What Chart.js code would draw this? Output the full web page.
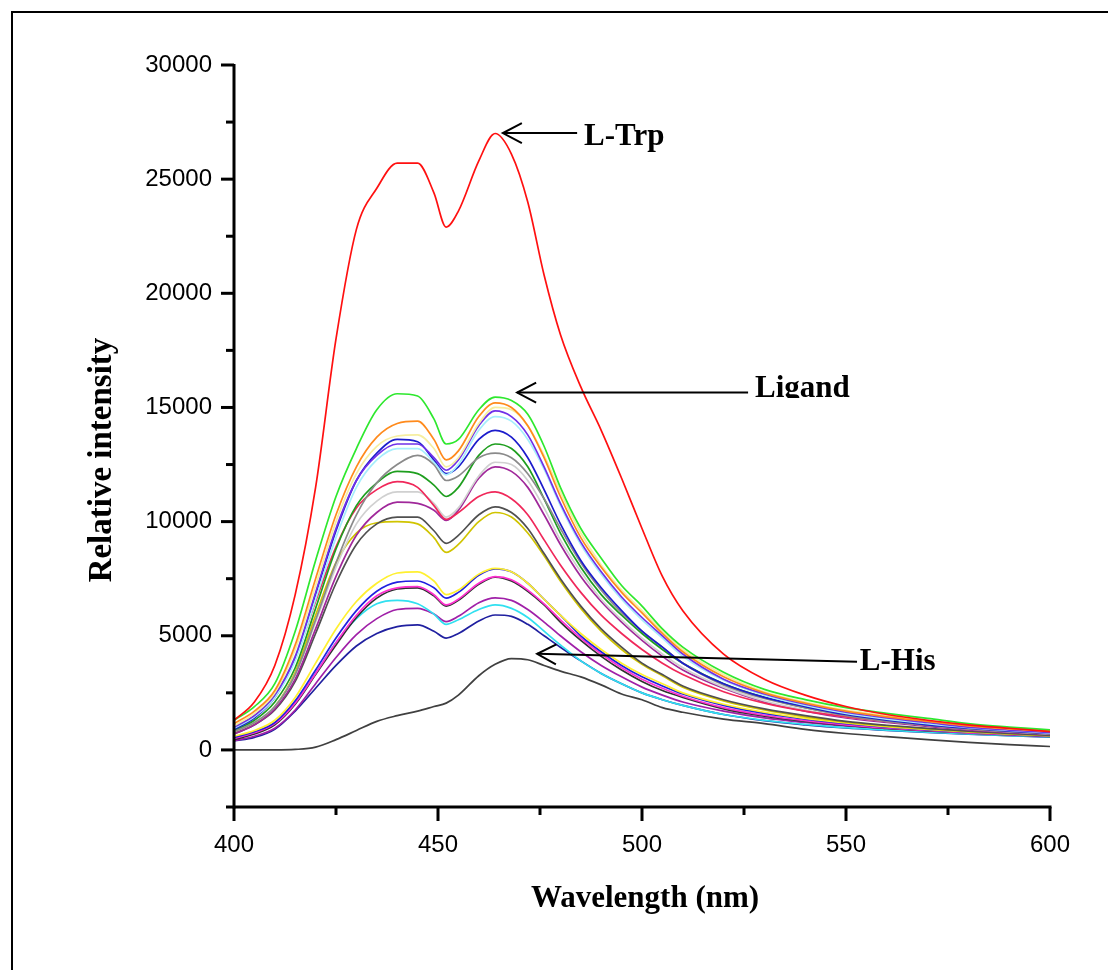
<!DOCTYPE html>
<html><head><meta charset="utf-8">
<script src="https://cdn.jsdelivr.net/npm/chart.js@4.4.0/dist/chart.umd.min.js"></script>
<style>
html,body{margin:0;padding:0;background:#fff;}
#wrap{position:relative;width:1108px;height:970px;overflow:hidden;}
#frame{position:absolute;left:11px;top:11px;width:1200px;height:1200px;border-left:2px solid #000;border-top:2px solid #000;}
canvas{position:absolute;left:0;top:0;}
</style></head><body>
<div id="wrap"><div id="frame"></div><canvas id="c" width="1108" height="970"></canvas></div>
<script>
// ---- data ----
const wavelength = [400,405,410,415,420,425,430,435,440,445,449,452,455,460,464,468,472,476,480,485,490,495,500,505,510,520,530,540,550,560,570,580,590,600];

const lTrp       = [1300,2100,3700,6800,11500,18000,22800,24600,25700,25700,24400,22900,23600,25800,27000,26100,24000,20800,18200,15900,14000,11900,9700,7600,6100,4200,3100,2400,1900,1550,1300,1100,950,800];
const ligGreen   = [1300,1900,2900,5200,8300,11100,13200,14900,15600,15500,14500,13400,13600,14900,15450,15300,14700,13300,11500,9700,8400,7200,6300,5300,4500,3400,2650,2200,1850,1600,1380,1150,1000,880];
const ligOrange  = [1150,1700,2600,4600,7500,10300,12400,13700,14300,14400,13600,12700,13100,14600,15200,15000,14200,12800,11100,9300,8000,6900,6000,5100,4300,3200,2500,2050,1700,1450,1250,1050,920,820];
const ligPaleYel = [1050,1600,2500,4400,7200,10000,12100,13300,13750,13800,13200,12400,12800,14300,15000,14900,14200,12900,11300,9500,8100,7000,6100,5200,4400,3300,2550,2100,1750,1500,1280,1080,940,830];
const ligBlue    = [900,1400,2300,4000,6800,9600,11800,13000,13600,13500,12700,12100,12400,13600,14000,13700,12800,11400,9900,8300,7100,6100,5200,4500,3800,2900,2300,1900,1550,1300,1100,950,820,720];
const ligPurple  = [1000,1500,2400,4100,6900,9700,11800,12900,13400,13400,12800,12250,12700,14200,14850,14600,13800,12400,10800,9100,7800,6700,5800,5000,4200,3100,2450,2000,1650,1400,1200,1000,870,760];
const ligLtCyan  = [950,1450,2300,3900,6600,9300,11500,12700,13200,13200,12600,12050,12500,14000,14600,14400,13600,12300,10700,9000,7700,6600,5700,4900,4100,3050,2400,1950,1600,1350,1150,980,850,740];
const ligGray    = [800,1200,1900,3300,5700,8200,10300,11700,12500,12900,12500,11800,12000,12800,13000,12800,12100,11000,9700,8200,7000,6000,5200,4500,3800,2850,2250,1850,1500,1250,1080,920,800,700];
const ligDkGreen = [850,1300,2100,3600,6200,8800,10700,11700,12200,12100,11600,11100,11500,12900,13400,13200,12400,11000,9500,8000,6800,5900,5100,4400,3800,2900,2300,1850,1550,1300,1100,950,820,720];
const ligCrimson = [1000,1500,2400,4000,6500,8900,10600,11400,11750,11500,10700,10100,10400,11100,11300,11000,10300,9200,8100,6900,5900,5100,4400,3800,3300,2550,2050,1700,1450,1250,1080,930,820,720];
const ligLtGray  = [800,1200,1900,3300,5600,8000,9900,10900,11300,11300,10800,10200,10600,12000,12600,12500,11800,10600,9200,7800,6600,5700,4900,4200,3600,2750,2150,1750,1450,1250,1070,920,800,700];
const ligMagenta = [700,1100,1800,3100,5300,7600,9400,10400,10850,10800,10500,10050,10500,11900,12400,12200,11500,10300,9000,7600,6500,5600,4800,4100,3500,2700,2100,1700,1400,1200,1030,880,770,680];
const ligDkGray  = [700,1100,1750,3000,5100,7300,9000,9900,10200,10200,9600,9050,9400,10300,10650,10400,9700,8600,7500,6300,5300,4500,3800,3300,2800,2200,1800,1500,1250,1080,940,820,720,640];
const ligOlive   = [750,1150,1900,3400,5900,8200,9500,9950,10000,9900,9300,8650,9000,10000,10400,10200,9500,8500,7400,6200,5200,4400,3750,3250,2750,2150,1750,1450,1220,1050,920,800,700,620];
const lowYellow  = [600,850,1300,2300,3800,5300,6500,7300,7750,7800,7400,6800,7000,7700,7950,7800,7300,6600,5900,5100,4400,3800,3300,2900,2500,2000,1650,1380,1180,1020,900,790,700,620];
const lowBlue    = [550,800,1200,2150,3500,4900,6100,6950,7350,7400,7100,6650,6900,7650,7930,7800,7300,6600,5900,5000,4300,3700,3200,2800,2450,1950,1600,1350,1150,1000,880,780,690,610];
const lowPink    = [500,750,1150,2050,3350,4700,5900,6750,7100,7150,6800,6350,6600,7300,7590,7450,7000,6400,5700,4900,4200,3600,3100,2700,2350,1850,1520,1280,1100,960,850,750,670,600];
const lowBlack   = [450,700,1100,2000,3300,4600,5800,6650,7050,7100,6750,6300,6550,7250,7570,7400,6950,6350,5600,4800,4100,3500,3000,2600,2300,1800,1480,1250,1070,940,830,740,660,590];
const lowCyan    = [500,750,1150,2050,3350,4700,5750,6400,6550,6400,5950,5500,5700,6150,6350,6200,5800,5200,4600,3900,3350,2900,2500,2200,1950,1550,1300,1120,980,870,780,700,630,570];
const lowPurple  = [400,600,950,1750,2900,4050,5050,5750,6150,6200,5950,5620,5850,6450,6660,6550,6150,5600,5000,4300,3700,3200,2750,2400,2100,1700,1400,1200,1040,920,820,730,650,580];
const lowDkBlue  = [400,550,900,1700,2700,3700,4550,5100,5400,5480,5200,4900,5100,5650,5910,5850,5500,5000,4500,3900,3350,2900,2500,2200,1950,1550,1280,1100,960,860,770,690,620,560];
const lHis       = [0,0,0,20,120,450,850,1250,1500,1700,1900,2050,2400,3250,3750,4000,3950,3700,3450,3200,2850,2450,2200,1850,1650,1350,1150,900,720,580,450,330,230,150];

// tick values / labels
const xMajorTicks = [400,450,500,550,600];
const xMinorTicks = [425,475,525,575];
const yMajorTicks = [0,5000,10000,15000,20000,25000,30000];
const yMinorTicks = [2500,7500,12500,17500,22500,27500];

// ---- styling (separate from data) ----
const seriesList = [
  ['L-Trp', lTrp, '#ff1010'],
  ['Ligand', ligGreen, '#2ee82e'],
  ['s3', ligOrange, '#ff8a1c'],
  ['s4', ligPaleYel, '#f6eea0'],
  ['s5', ligPurple, '#7030e8'],
  ['s6', ligLtCyan, '#a6eefc'],
  ['s7', ligBlue, '#1c1ccc'],
  ['s8', ligGray, '#8a8a8a'],
  ['s9', ligDkGreen, '#1e9e1e'],
  ['s10', ligCrimson, '#f0285a'],
  ['s11', ligLtGray, '#d0d0d0'],
  ['s12', ligMagenta, '#a0289a'],
  ['s13', ligDkGray, '#505050'],
  ['s14', ligOlive, '#d0c400'],
  ['s15', lowYellow, '#fff030'],
  ['s16', lowBlue, '#2020e0'],
  ['s17', lowPink, '#ff30d0'],
  ['s18', lowBlack, '#303030'],
  ['s19', lowCyan, '#30e0f0'],
  ['s20', lowPurple, '#a020a8'],
  ['s21', lowDkBlue, '#2020a0'],
  ['L-His', lHis, '#404040']
];

const datasets = seriesList.map(([name, vals, color]) => ({
  label: name,
  data: wavelength.map((w, i) => ({x: w, y: vals[i]})),
  borderColor: color,
  borderWidth: 1.7,
  pointRadius: 0,
  fill: false,
  cubicInterpolationMode: 'monotone'
}));

// annotations in data coordinates
const notes = [
  {text: 'L-Trp',  tip: [465.9, 27020], tail: [484.1, 27020], label: [485.8, 26480], clip: false},
  {text: 'Ligand', tip: [469.4, 15650], tail: [526.0, 15650], label: [527.7, 15460], clip: true},
  {text: 'L-His',  tip: [474.3, 4210],  tail: [552.7, 3860],  label: [553.4, 3500],  clip: false}
];

const drawPlugin = {
  id: 'decor',
  afterDraw(chart) {
    const {ctx, chartArea: a, scales: {x, y}} = chart;
    ctx.save();
    ctx.strokeStyle = '#000';
    ctx.fillStyle = '#000';
    ctx.lineCap = 'butt';
    ctx.lineWidth = 3;
    const seg = (x1, y1, x2, y2) => { ctx.beginPath(); ctx.moveTo(x1, y1); ctx.lineTo(x2, y2); ctx.stroke(); };
    // axis lines
    seg(a.left, a.top - 1, a.left, a.bottom + 1.5);
    seg(a.left - 8, a.bottom, a.right + 1.5, a.bottom);
    // y ticks
    yMajorTicks.forEach(v => { const p = y.getPixelForValue(v); seg(a.left - 13, p, a.left, p); });
    yMinorTicks.forEach(v => { const p = y.getPixelForValue(v); seg(a.left - 8, p, a.left, p); });
    // x ticks
    xMajorTicks.forEach(v => { const p = x.getPixelForValue(v); seg(p, a.bottom, p, a.bottom + 14); });
    xMinorTicks.forEach(v => { const p = x.getPixelForValue(v); seg(p, a.bottom, p, a.bottom + 8); });

    // axis titles
    ctx.textAlign = 'center';
    ctx.textBaseline = 'alphabetic';
    ctx.font = 'bold 31px "Liberation Serif", "Times New Roman", serif';
    ctx.fillText('Wavelength (nm)', (a.left + a.right) / 2 + 3, 907);
    ctx.save();
    ctx.translate(111, 460);
    ctx.rotate(-Math.PI / 2);
    ctx.font = 'bold 33px "Liberation Serif", "Times New Roman", serif';
    ctx.fillText('Relative intensity', 0, 0);
    ctx.restore();

    // annotations with open arrows
    ctx.lineWidth = 2;
    ctx.font = 'bold 31px "Liberation Serif", "Times New Roman", serif';
    ctx.textAlign = 'left';
    notes.forEach(n => {
      const tx = x.getPixelForValue(n.tip[0]), ty = y.getPixelForValue(n.tip[1]);
      const ex = x.getPixelForValue(n.tail[0]), ey = y.getPixelForValue(n.tail[1]);
      seg(tx, ty, ex, ey);
      const len = Math.hypot(ex - tx, ey - ty);
      const ux = (ex - tx) / len, uy = (ey - ty) / len;
      const bx = tx + ux * 19, by = ty + uy * 19;
      ctx.beginPath();
      ctx.moveTo(bx - uy * 10, by + ux * 10);
      ctx.lineTo(tx, ty);
      ctx.lineTo(bx + uy * 10, by - ux * 10);
      ctx.stroke();
      const lx = x.getPixelForValue(n.label[0]), ly = y.getPixelForValue(n.label[1]);
      ctx.save();
      if (n.clip) { ctx.beginPath(); ctx.rect(lx - 5, ly - 40, 200, 41); ctx.clip(); }
      ctx.fillText(n.text, lx, ly);
      ctx.restore();
    });
    ctx.restore();
  }
};

new Chart(document.getElementById('c'), {
  type: 'line',
  data: {datasets},
  plugins: [drawPlugin],
  options: {
    responsive: false,
    animation: false,
    devicePixelRatio: 1,
    layout: {padding: {left: 0, top: 65, right: 58, bottom: 0}},
    plugins: {legend: {display: false}, tooltip: {enabled: false}},
    scales: {
      x: {
        type: 'linear', min: 400, max: 600,
        afterBuildTicks(s) { s.ticks = xMajorTicks.map(v => ({value: v})); },
        ticks: {autoSkip: false, maxRotation: 0, padding: 24, color: '#000',
          font: {family: '"Liberation Sans", Arial, sans-serif', size: 24},
          callback: v => String(v)},
        grid: {display: false, drawTicks: false},
        border: {display: false},
        afterFit(s) { s.height = 163; }
      },
      y: {
        type: 'linear', min: -2500, max: 30000,
        afterBuildTicks(s) { s.ticks = yMajorTicks.map(v => ({value: v})); },
        ticks: {autoSkip: false, padding: 22, color: '#000',
          font: {family: '"Liberation Sans", Arial, sans-serif', size: 24},
          callback: v => String(v)},
        grid: {display: false, drawTicks: false},
        border: {display: false},
        afterFit(s) { s.width = 234; }
      }
    }
  }
});
</script>
</body></html>
